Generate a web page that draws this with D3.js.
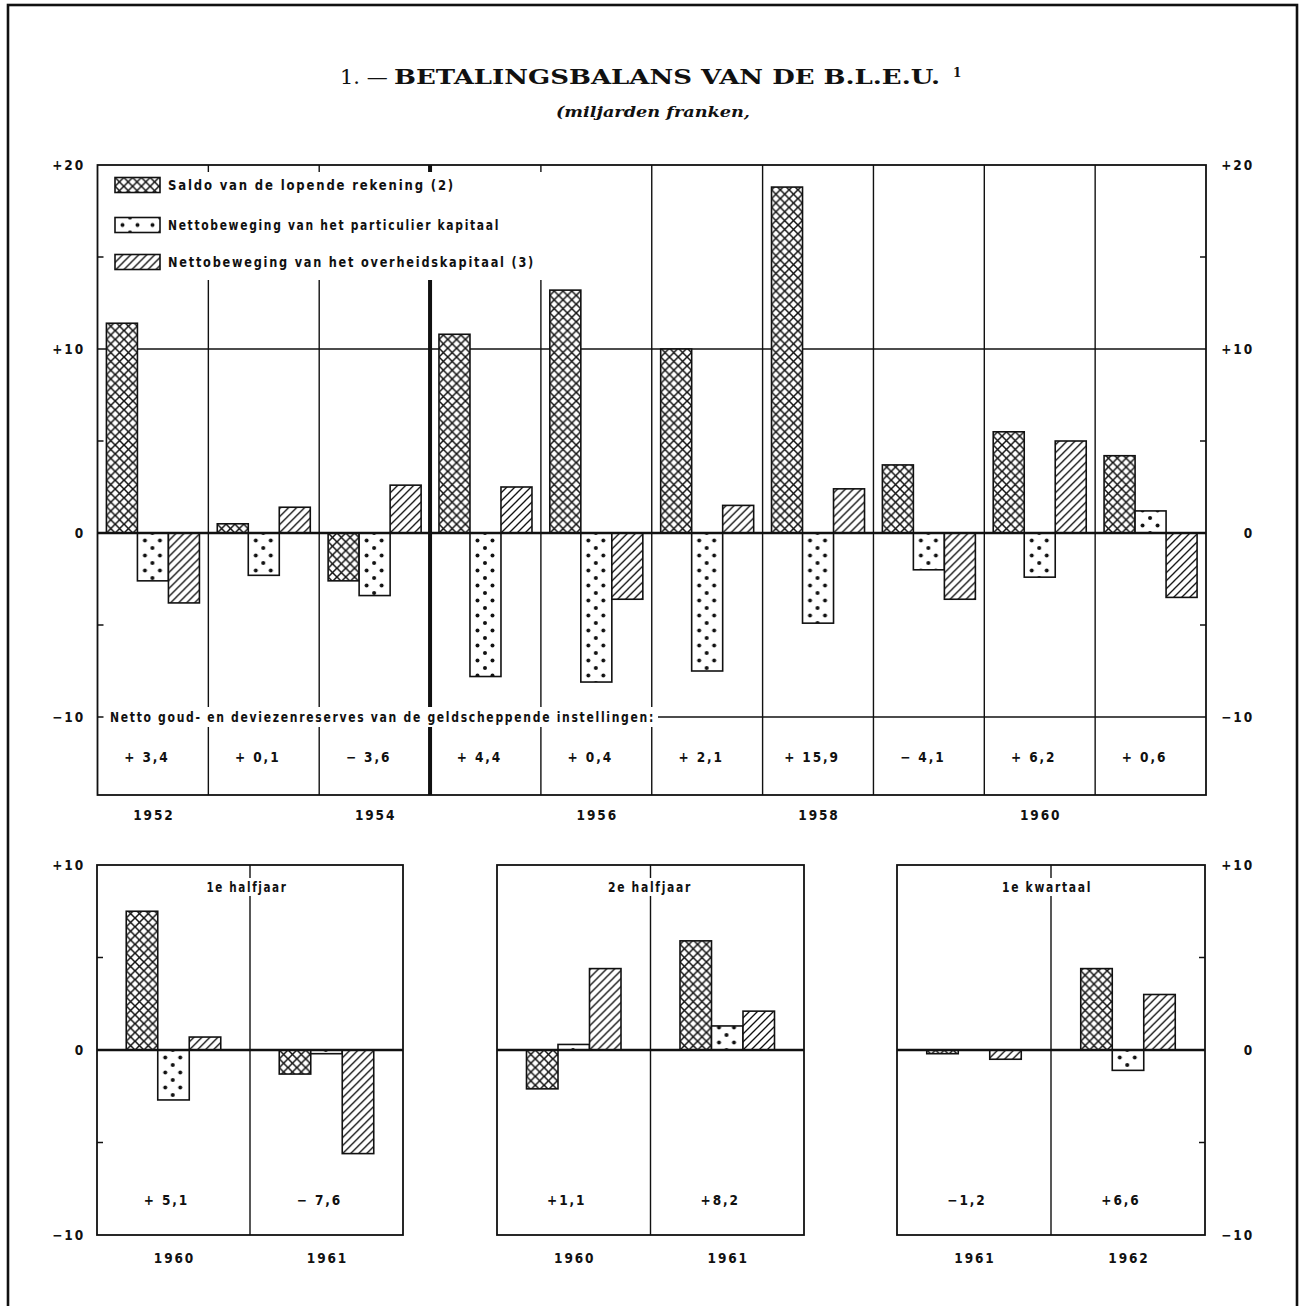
<!DOCTYPE html>
<html><head><meta charset="utf-8">
<script src="https://cdn.jsdelivr.net/npm/d3@7"></script>
<style>
html,body{margin:0;padding:0;background:#fff;}
svg{display:block;}
.t{font-family:"DejaVu Sans Condensed","Liberation Sans Narrow",sans-serif;font-weight:bold;font-size:13.5px;letter-spacing:1.9px;fill:#111;}
</style></head><body>
<svg id="c" width="1306" height="1306"></svg>
<script>
// ---------- DATA ----------
const years = ["1952","1953","1954","1955","1956","1957","1958","1959","1960","1961"];
const yearLabels = ["1952","","1954","","1956","","1958","","1960",""];
const saldo       = [11.4, 0.5, -2.6, 10.8, 13.2, 10.0, 18.8, 3.7, 5.5, 4.2];
const particulier = [-2.6, -2.3, -3.4, -7.8, -8.1, -7.5, -4.9, -2.0, -2.4, 1.2];
const overheid    = [-3.8, 1.4, 2.6, 2.5, -3.6, 1.5, 2.4, -3.6, 5.0, -3.5];
const reserves    = ["+ 3,4","+ 0,1","− 3,6","+ 4,4","+ 0,4","+ 2,1","+ 15,9","− 4,1","+ 6,2","+ 0,6"];
const seriesNames = ["Saldo van de lopende rekening (2)","Nettobeweging van het particulier kapitaal","Nettobeweging van het overheidskapitaal (3)"];
const topTickValues = [20, 10, 0, -10];
const topTickLabels = ["+20","+10","0","−10"];
const topMinorTicks = [15, 5, -5, -10];
const botTickValues = [10, 0, -10];
const botTickLabels = ["+10","0","−10"];
const botMinorTicks = [5, -5];

const h1Title = "1e halfjaar", h1Periods = ["1960","1961"];
const h1Saldo = [7.5, -1.3], h1Part = [-2.7, -0.2], h1Overh = [0.7, -5.6], h1Reserves = ["+ 5,1","− 7,6"];
const h2Title = "2e halfjaar", h2Periods = ["1960","1961"];
const h2Saldo = [-2.1, 5.9], h2Part = [0.3, 1.3], h2Overh = [4.4, 2.1], h2Reserves = ["+1,1","+8,2"];
const q1Title = "1e kwartaal", q1Periods = ["1961","1962"];
const q1Saldo = [-0.2, 4.4], q1Part = [0.0, -1.1], q1Overh = [-0.5, 3.0], q1Reserves = ["−1,2","+6,6"];

const titleNum = "1. —";
const titleMain = "BETALINGSBALANS VAN DE B.L.E.U.";
const subtitle = "(miljarden franken,";
const reservesLabel = "Netto goud- en deviezenreserves van de geldscheppende instellingen:";

// ---------- SETUP ----------
const svg = d3.select("#c");
const defs = svg.append("defs");
const INK = "#111";
let pid = 0;
function pattern(type, x0, y0) {
  const id = "p" + (pid++);
  let p;
  if (type === 0) {
    const s = 8.8;
    p = defs.append("pattern").attr("id", id).attr("patternUnits","userSpaceOnUse")
      .attr("x", x0).attr("y", y0).attr("width", s).attr("height", s);
    p.append("rect").attr("width", s).attr("height", s).attr("fill", "#fff");
    p.append("path").attr("d", `M-1,-1L${s+1},${s+1}M${s+1},-1L-1,${s+1}`)
      .attr("stroke", INK).attr("stroke-width", 1.5).attr("fill", "none");
  } else if (type === 1) {
    p = defs.append("pattern").attr("id", id).attr("patternUnits","userSpaceOnUse")
      .attr("x", x0).attr("y", y0).attr("width", 30).attr("height", 15);
    p.append("rect").attr("width", 30).attr("height", 15).attr("fill", "#fff");
    [[7.5,7.5],[22.5,7.5],[15,0],[15,15]].forEach(([cx,cy]) =>
      p.append("circle").attr("cx", cx).attr("cy", cy).attr("r", 2).attr("fill", INK));
  } else {
    const s = 8;
    p = defs.append("pattern").attr("id", id).attr("patternUnits","userSpaceOnUse")
      .attr("x", x0).attr("y", y0).attr("width", s).attr("height", s);
    p.append("rect").attr("width", s).attr("height", s).attr("fill", "#fff");
    p.append("path").attr("d", `M-1,${s+1}L${s+1},-1M-2,2L2,-2M${s-2},${s+2}L${s+2},${s-2}`)
      .attr("stroke", INK).attr("stroke-width", 1.35).attr("fill", "none");
  }
  return `url(#${id})`;
}
function line(g, x1, y1, x2, y2, w) {
  return g.append("line").attr("x1", x1).attr("y1", y1).attr("x2", x2).attr("y2", y2)
    .attr("stroke", INK).attr("stroke-width", w || 1.3);
}
function text(g, x, y, s, anchor, extra) {
  const t = g.append("text").attr("class", "t").attr("x", x).attr("y", y)
    .attr("dy", "0.36em").attr("text-anchor", anchor || "middle").text(s);
  if (extra) extra(t);
  return t;
}
function drawBars(g, cats, xBand, y, seriesArr, groupW) {
  const inner = d3.scaleBand().domain([0, 1, 2]).range([-groupW / 2, groupW / 2]);
  cats.forEach((c, i) => {
    const cx = xBand(c) + xBand.bandwidth() / 2;
    seriesArr.forEach((arr, s) => {
      const v = arr[i];
      if (v === 0) return;
      const bx = cx + inner(s);
      const top = y(Math.max(0, v)), bot = y(Math.min(0, v));
      g.append("rect").attr("x", bx).attr("y", top).attr("width", inner.bandwidth())
        .attr("height", bot - top).attr("fill", pattern(s, bx, y(0)))
        .attr("stroke", INK).attr("stroke-width", 1.6);
    });
  });
}

// outer frame
svg.append("rect").attr("x", 8).attr("y", 5).attr("width", 1289).attr("height", 1310)
  .attr("fill", "none").attr("stroke", INK).attr("stroke-width", 2.6);

// title
const serif = "DejaVu Serif, Liberation Serif, serif";
svg.append("text").attr("x", 340).attr("y", 84).attr("font-family", serif)
  .attr("font-size", 21).attr("fill", INK).text(titleNum);
svg.append("text").attr("x", 394).attr("y", 84).attr("font-family", serif)
  .attr("font-size", 21).attr("font-weight", "bold").attr("fill", INK)
  .attr("textLength", 546).attr("lengthAdjust", "spacingAndGlyphs").text(titleMain);
svg.append("text").attr("x", 953).attr("y", 77).attr("font-family", serif)
  .attr("font-size", 12).attr("font-weight", "bold").attr("fill", INK).text("1");
svg.append("text").attr("x", 556).attr("y", 117).attr("font-family", serif)
  .attr("font-size", 15).attr("font-style", "italic").attr("font-weight", "bold").attr("fill", INK)
  .attr("textLength", 194).attr("lengthAdjust", "spacingAndGlyphs").text(subtitle);

// ---------- TOP CHART ----------
const T = { x0: 97.5, x1: 1206, bottom: 795 };
const xTop = d3.scaleBand().domain(years).range([T.x0, T.x1]).padding(0);
const yTop = d3.scaleLinear().domain([-10, 20]).range([717, 165]);
const gt = svg.append("g");

line(gt, T.x0, yTop(10), T.x1, yTop(10), 1.5);
line(gt, 658, yTop(-10), T.x1, yTop(-10), 1.5);
years.forEach((c, i) => {
  if (i === 0) return;
  const x = xTop(c);
  line(gt, x, yTop(20), x, T.bottom, i === 3 ? 4 : 1.4);
});
gt.append("rect").attr("x", T.x0 + 1.5).attr("y", 172).attr("width", 446).attr("height", 108).attr("fill", "#fff");
const legY = [185, 225, 262];
const legW = [287, 332, 367];
seriesNames.forEach((n, s) => {
  gt.append("rect").attr("x", 115).attr("y", legY[s] - 7.5).attr("width", 45).attr("height", 15)
    .attr("fill", pattern(s, 115, legY[s] - 7.5)).attr("stroke", INK).attr("stroke-width", 1.6);
  text(gt, 168, legY[s], n, "start", t => t.attr("textLength", legW[s]).attr("lengthAdjust", "spacingAndGlyphs"));
});
gt.append("rect").attr("x", 105).attr("y", 707).attr("width", 552).attr("height", 20).attr("fill", "#fff");
text(gt, 110, yTop(-10), reservesLabel, "start", t => t.attr("textLength", 545).attr("lengthAdjust", "spacingAndGlyphs"));

drawBars(gt, years, xTop, yTop, [saldo, particulier, overheid], 93);

line(gt, T.x0, yTop(0), T.x1, yTop(0), 2.4);
gt.append("rect").attr("x", T.x0).attr("y", yTop(20)).attr("width", T.x1 - T.x0).attr("height", T.bottom - yTop(20))
  .attr("fill", "none").attr("stroke", INK).attr("stroke-width", 1.8);
topMinorTicks.forEach(v => {
  line(gt, T.x0, yTop(v), T.x0 + 6, yTop(v), 1.5);
  if (v !== -10) line(gt, T.x1 - 6, yTop(v), T.x1, yTop(v), 1.5);
});
topTickValues.forEach((v, i) => {
  text(gt, 85, yTop(v), topTickLabels[i], "end");
  text(gt, 1254, yTop(v), topTickLabels[i], "end");
});
years.forEach((c, i) => {
  const cx = xTop(c) + xTop.bandwidth() / 2;
  text(gt, cx - 6, 757, reserves[i]);
  if (yearLabels[i]) text(gt, cx + 1, 815, yearLabels[i]);
});

// ---------- BOTTOM PANELS ----------
const yBot = d3.scaleLinear().domain([-10, 10]).range([1235, 865]);
const panels = [
  { x0: 97, x1: 403, title: h1Title, titleX: 247, titleW: 81, cats: h1Periods, data: [h1Saldo, h1Part, h1Overh], res: h1Reserves, left: true, right: false },
  { x0: 497, x1: 804, title: h2Title, titleX: 650, titleW: 84, cats: h2Periods, data: [h2Saldo, h2Part, h2Overh], res: h2Reserves, left: false, right: false },
  { x0: 897, x1: 1205, title: q1Title, titleX: 1047, titleW: 90, cats: q1Periods, data: [q1Saldo, q1Part, q1Overh], res: q1Reserves, left: false, right: true }
];
panels.forEach(P => {
  const g = svg.append("g");
  const xb = d3.scaleBand().domain(P.cats).range([P.x0, P.x1]).padding(0);
  const mid = xb(P.cats[1]);
  line(g, mid, yBot(10), mid, yBot(-10), 1.4);
  g.append("rect").attr("x", P.titleX - P.titleW / 2 - 3).attr("y", 878).attr("width", P.titleW + 6).attr("height", 18).attr("fill", "#fff");
  text(g, P.titleX - P.titleW / 2, 887, P.title, "start", t => t.attr("textLength", P.titleW).attr("lengthAdjust", "spacingAndGlyphs"));
  drawBars(g, P.cats, xb, yBot, P.data, 94.5);
  line(g, P.x0, yBot(0), P.x1, yBot(0), 2.4);
  g.append("rect").attr("x", P.x0).attr("y", yBot(10)).attr("width", P.x1 - P.x0).attr("height", yBot(-10) - yBot(10))
    .attr("fill", "none").attr("stroke", INK).attr("stroke-width", 1.8);
  P.cats.forEach((c, i) => {
    const cx = xb(c) + xb.bandwidth() / 2;
    text(g, cx - 7, 1200, P.res[i]);
    text(g, cx + 1, 1258, c);
  });
  if (P.left) {
    botMinorTicks.forEach(v => line(g, P.x0, yBot(v), P.x0 + 6, yBot(v), 1.5));
    botTickValues.forEach((v, i) => text(g, 85, yBot(v), botTickLabels[i], "end"));
  }
  if (P.right) {
    botMinorTicks.forEach(v => line(g, P.x1 - 6, yBot(v), P.x1, yBot(v), 1.5));
    botTickValues.forEach((v, i) => text(g, 1254, yBot(v), botTickLabels[i], "end"));
  }
});
</script>
</body></html>
